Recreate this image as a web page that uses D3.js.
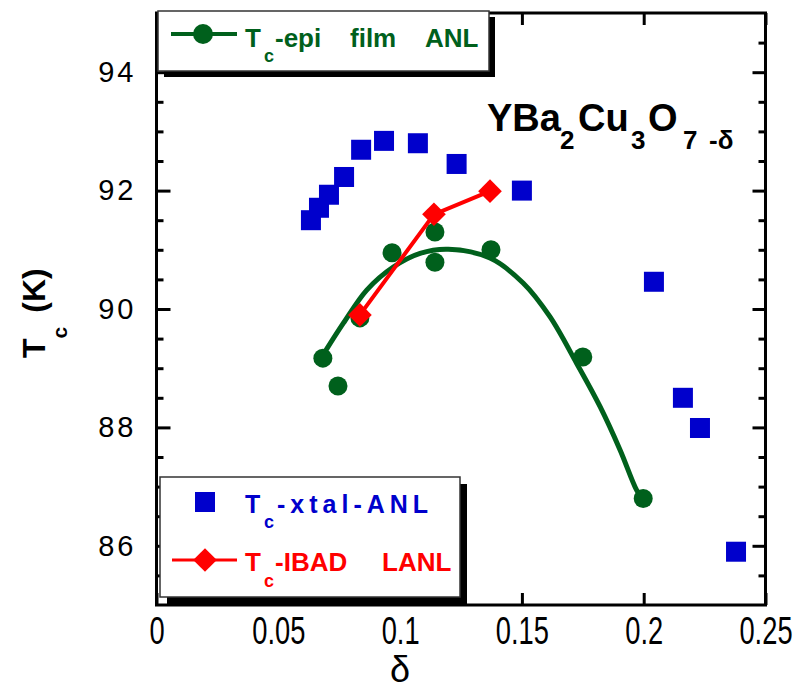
<!DOCTYPE html>
<html><head><meta charset="utf-8">
<script src="https://cdn.jsdelivr.net/npm/d3@7"></script>
<style>body{margin:0;background:#fff;} svg{display:block;font-family:"Liberation Sans",Arial,sans-serif;}</style>
</head><body>
<svg id="c" width="812" height="691"></svg>
<script>
// ---- data ----
const xtalDelta = [0.0634, 0.0667, 0.0708, 0.0770, 0.0840, 0.0934, 0.1073, 0.1232, 0.1500, 0.2042, 0.2161, 0.2231, 0.2379];
const xtalTc    = [91.50, 91.71, 91.93, 92.23, 92.69, 92.84, 92.80, 92.45, 92.00, 90.46, 88.50, 87.99, 85.90];

const epiDelta = [0.0683, 0.0745, 0.0835, 0.0967, 0.1143, 0.1143, 0.1373, 0.1750, 0.1998];
const epiTc    = [89.17, 88.70, 89.85, 90.95, 91.30, 90.79, 91.00, 89.19, 86.80];

const fitDelta = [0.0692, 0.0767, 0.0863, 0.0972, 0.1082, 0.1198, 0.1369, 0.1505, 0.1615, 0.1725, 0.1821, 0.1903, 0.1971, 0.1998];
const fitTc    = [89.28, 89.76, 90.32, 90.71, 90.94, 91.01, 90.86, 90.44, 89.87, 89.08, 88.35, 87.62, 86.94, 86.77];

const ibadDelta = [0.0835, 0.1139, 0.1369];
const ibadTc    = [89.90, 91.60, 91.99];

const xTickValues = [0, 0.05, 0.1, 0.15, 0.2, 0.25];
const xTickLabels = ["0", "0.05", "0.1", "0.15", "0.2", "0.25"];
const yTickValues = [86, 88, 90, 92, 94];
const yTickLabels = ["86", "88", "90", "92", "94"];
const yMinorValues = [85.5, 86.5, 87, 87.5, 88.5, 89, 89.5, 90.5, 91, 91.5, 92.5, 93, 93.5, 94.5];

const GREEN = "#00601c", BLUE = "#0000cc", RED = "#ff0000";

const svg = d3.select("#c");
const x = d3.scaleLinear().domain([0, 0.25]).range([156.5, 765.5]);
const y = d3.scaleLinear().domain([85, 95]).range([605, 13]);
const L = 156.5, R = 765.5, T = 13, B = 605;

// ---- axes ----
function styleAxis(g) {
  g.select(".domain").remove();
  g.selectAll(".tick line").attr("stroke", "#000").attr("stroke-width", 3);
}
// bottom
svg.append("g").attr("transform", `translate(0,${B})`)
  .call(d3.axisBottom(x).tickValues(xTickValues).tickSize(-12).tickPadding(11)
        .tickFormat((d, i) => xTickLabels[i]))
  .call(styleAxis)
  .call(g => g.selectAll("text").attr("fill", "#000").attr("font-size", 39)
        .attr("font-family", "Liberation Sans, Arial, sans-serif")
        .attr("transform", "scale(0.7,1)").attr("dy", "0.71em"));
// top
svg.append("g").attr("transform", `translate(0,${T})`)
  .call(d3.axisTop(x).tickValues(xTickValues).tickSize(-12).tickFormat(""))
  .call(styleAxis);
// left major + labels
svg.append("g").attr("transform", `translate(${L},0)`)
  .call(d3.axisLeft(y).tickValues(yTickValues).tickSize(-14).tickPadding(20)
        .tickFormat((d, i) => yTickLabels[i]))
  .call(styleAxis)
  .call(g => g.selectAll("text").attr("fill", "#000").attr("font-size", 29)
        .attr("letter-spacing", 3)
        .attr("font-family", "Liberation Sans, Arial, sans-serif"));
svg.append("g").attr("transform", `translate(${L},0)`)
  .call(d3.axisLeft(y).tickValues(yMinorValues).tickSize(-7).tickFormat(""))
  .call(styleAxis);
// right
svg.append("g").attr("transform", `translate(${R},0)`)
  .call(d3.axisRight(y).tickValues(yTickValues).tickSize(-13).tickFormat(""))
  .call(styleAxis);
svg.append("g").attr("transform", `translate(${R},0)`)
  .call(d3.axisRight(y).tickValues(yMinorValues).tickSize(-7).tickFormat(""))
  .call(styleAxis);
// frame
svg.append("rect").attr("x", L).attr("y", T).attr("width", R - L).attr("height", B - T)
  .attr("fill", "none").attr("stroke", "#000").attr("stroke-width", 3);

// ---- data marks ----
const xtal = xtalDelta.map((d, i) => [d, xtalTc[i]]);
const epi = epiDelta.map((d, i) => [d, epiTc[i]]);
const fit = fitDelta.map((d, i) => [d, fitTc[i]]);
const ibad = ibadDelta.map((d, i) => [d, ibadTc[i]]);

svg.append("g").selectAll("rect").data(xtal).join("rect")
  .attr("x", d => x(d[0]) - 10).attr("y", d => y(d[1]) - 10)
  .attr("width", 20).attr("height", 20).attr("fill", BLUE);

svg.append("path").datum(fit)
  .attr("d", d3.line().x(d => x(d[0])).y(d => y(d[1])).curve(d3.curveCatmullRom))
  .attr("fill", "none").attr("stroke", GREEN).attr("stroke-width", 5);

svg.append("g").selectAll("circle").data(epi).join("circle")
  .attr("cx", d => x(d[0])).attr("cy", d => y(d[1])).attr("r", 9.5).attr("fill", GREEN);

svg.append("path").datum(ibad)
  .attr("d", d3.line().x(d => x(d[0])).y(d => y(d[1])))
  .attr("fill", "none").attr("stroke", RED).attr("stroke-width", 4);
const diamond = d3.symbol().type(d3.symbolSquare).size(280);
svg.append("g").selectAll("path").data(ibad).join("path")
  .attr("d", diamond)
  .attr("transform", d => `translate(${x(d[0])},${y(d[1])}) rotate(45)`)
  .attr("fill", RED);

// ---- compound label ----
const comp = svg.append("text").attr("font-weight", "bold").attr("fill", "#000");
comp.append("tspan").attr("x", 487).attr("y", 131).attr("font-size", 38).text("YBa");
comp.append("tspan").attr("x", 560).attr("y", 149).attr("font-size", 26).text("2");
comp.append("tspan").attr("x", 578).attr("y", 131).attr("font-size", 38).text("Cu");
comp.append("tspan").attr("x", 631).attr("y", 149).attr("font-size", 26).text("3");
comp.append("tspan").attr("x", 648).attr("y", 131).attr("font-size", 38).text("O");
comp.append("tspan").attr("x", 683).attr("y", 149).attr("font-size", 26).text("7");
comp.append("tspan").attr("x", 709).attr("y", 149).attr("font-size", 26).text("-δ");

// ---- axis titles ----
svg.append("text").attr("x", 400).attr("y", 682).attr("text-anchor", "middle")
  .attr("font-size", 36).attr("fill", "#000").text("δ");
const yl = svg.append("text").attr("transform", "translate(45,358) rotate(-90)")
  .attr("font-weight", "bold").attr("font-size", 32).attr("fill", "#000");
yl.append("tspan").text("T");
yl.append("tspan").attr("font-size", 21).attr("dy", 22).text("c");
yl.append("tspan").attr("dy", -22).attr("dx", 14).text("(K)");

// ---- legends ----
function legendBox(x0, y0, w, h, off) {
  svg.append("rect").attr("x", x0 + off).attr("y", y0 + off).attr("width", w).attr("height", h).attr("fill", "#000");
  svg.append("rect").attr("x", x0).attr("y", y0).attr("width", w).attr("height", h)
    .attr("fill", "#fff").attr("stroke", "#333").attr("stroke-width", 1.5);
}
legendBox(158, 11, 331, 60, 6);
svg.append("line").attr("x1", 171).attr("x2", 237).attr("y1", 34).attr("y2", 34)
  .attr("stroke", GREEN).attr("stroke-width", 4);
svg.append("circle").attr("cx", 203).attr("cy", 34).attr("r", 10).attr("fill", GREEN);
const t1 = svg.append("text").attr("font-weight", "bold").attr("fill", GREEN).attr("font-size", 26);
t1.append("tspan").attr("x", 245).attr("y", 47).text("T");
t1.append("tspan").attr("x", 264).attr("y", 62).attr("font-size", 18).text("c");
t1.append("tspan").attr("x", 275).attr("y", 47).text("-epi");
t1.append("tspan").attr("x", 350).attr("y", 47).text("film");
t1.append("tspan").attr("x", 425).attr("y", 47).text("ANL");

legendBox(160, 477, 300, 120, 7);
svg.append("rect").attr("x", 195).attr("y", 492).attr("width", 20).attr("height", 20).attr("fill", BLUE);
const t2 = svg.append("text").attr("font-weight", "bold").attr("fill", BLUE).attr("font-size", 25);
t2.append("tspan").attr("x", 245).attr("y", 513).text("T");
t2.append("tspan").attr("x", 264).attr("y", 528).attr("font-size", 18).text("c");
t2.append("tspan").attr("x", 277).attr("y", 513).attr("letter-spacing", 5).text("-xtal-ANL");

svg.append("line").attr("x1", 172).attr("x2", 237).attr("y1", 560).attr("y2", 560)
  .attr("stroke", RED).attr("stroke-width", 3);
svg.append("path").attr("d", diamond).attr("transform", "translate(205,560) rotate(45)").attr("fill", RED);
const t3 = svg.append("text").attr("font-weight", "bold").attr("fill", RED).attr("font-size", 26);
t3.append("tspan").attr("x", 245).attr("y", 571).text("T");
t3.append("tspan").attr("x", 264).attr("y", 587).attr("font-size", 18).text("c");
t3.append("tspan").attr("x", 275).attr("y", 571).text("-IBAD");
t3.append("tspan").attr("x", 382).attr("y", 571).text("LANL");
</script>
</body></html>
